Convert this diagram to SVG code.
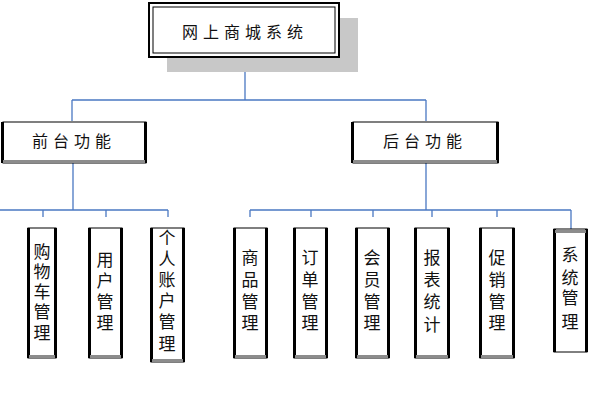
<svg xmlns="http://www.w3.org/2000/svg" width="600" height="400" viewBox="0 0 600 400">
<style>
.t{font-family:"Liberation Sans","Noto Sans CJK SC",sans-serif;font-size:16px;fill:#111;text-anchor:middle}
.v{font-family:"Liberation Sans","Noto Sans CJK SC",sans-serif;font-size:17px;fill:#111;text-anchor:middle}
.c{stroke:#4a78c2;stroke-width:1.3;fill:none}
.bx{fill:#fff;stroke:#000;stroke-width:1}
.side{fill:#000}
.bot{fill:#8c8c8c}
</style>
<rect width="600" height="400" fill="#fff"/>
<g id="connectors" class="c">
<path d="M245,57 V100 M72,100 H426 M72,100 V121 M426,100 V121"/>
<path d="M73,163 V210 M0,210 H168 M43,210 V217 M106,210 V217 M168,210 V217"/>
<path d="M426,163 V210 M250,210 H571 M250,210 V217 M311,210 V217 M373,210 V217 M432,210 V217 M497,210 V217 M571,210 V229"/>
</g>
<g id="root">
<rect x="167" y="18" width="191" height="54" fill="#c8c8c8"/>
<rect x="149" y="3" width="190" height="54" fill="#fff" stroke="#000" stroke-width="2"/>
<rect x="153" y="7" width="182" height="46" fill="none" stroke="#000" stroke-width="1"/>
<text class="t" x="245" y="38" letter-spacing="5">网上商城系统</text>
</g>
<g id="front">
<rect x="3" y="122" width="143" height="41" class="bx"/>
<rect x="1" y="122" width="3" height="41" class="side"/>
<rect x="144" y="122" width="3" height="41" class="side"/>
<rect x="3" y="160" width="142" height="3" class="bot"/>
<text class="t" x="74" y="147" letter-spacing="5">前台功能</text>
</g>
<g id="back">
<rect x="353" y="122" width="145" height="41" class="bx"/>
<rect x="351" y="122" width="3" height="41" class="side"/>
<rect x="496" y="122" width="3" height="41" class="side"/>
<rect x="353" y="160" width="144" height="3" class="bot"/>
<text class="t" x="425" y="147" letter-spacing="5">后台功能</text>
</g>
<g id="n1">
<rect x="28" y="228" width="28" height="130" class="bx"/>
<rect x="27" y="228" width="3" height="130" class="side"/><rect x="54" y="228" width="3" height="130" class="side"/>
<rect x="29" y="355" width="26" height="3" class="bot"/>
<text class="v" x="42" y="258">购</text><text class="v" x="42" y="278">物</text><text class="v" x="42" y="298">车</text><text class="v" x="42" y="318">管</text><text class="v" x="42" y="339">理</text>
</g>
<g id="n2">
<rect x="89" y="228" width="33" height="130" class="bx"/>
<rect x="88" y="228" width="3" height="130" class="side"/><rect x="120" y="228" width="3" height="130" class="side"/>
<rect x="90" y="355" width="31" height="3" class="bot"/>
<text class="v" x="105" y="266">用</text><text class="v" x="105" y="287">户</text><text class="v" x="105" y="308">管</text><text class="v" x="105" y="329">理</text>
</g>
<g id="n3">
<rect x="151" y="228" width="33" height="134" class="bx"/>
<rect x="150" y="228" width="3" height="134" class="side"/><rect x="182" y="228" width="3" height="134" class="side"/>
<rect x="152" y="359" width="31" height="3" class="bot"/>
<text class="v" x="167" y="244">个</text><text class="v" x="167" y="265">人</text><text class="v" x="167" y="286">账</text><text class="v" x="167" y="307">户</text><text class="v" x="167" y="328">管</text><text class="v" x="167" y="350">理</text>
</g>
<g id="n4">
<rect x="234" y="228" width="33" height="130" class="bx"/>
<rect x="233" y="228" width="3" height="130" class="side"/><rect x="265" y="228" width="3" height="130" class="side"/>
<rect x="235" y="355" width="31" height="3" class="bot"/>
<text class="v" x="250" y="264">商</text><text class="v" x="250" y="286">品</text><text class="v" x="250" y="308">管</text><text class="v" x="250" y="329">理</text>
</g>
<g id="n5">
<rect x="294" y="228" width="33" height="130" class="bx"/>
<rect x="293" y="228" width="3" height="130" class="side"/><rect x="325" y="228" width="3" height="130" class="side"/>
<rect x="295" y="355" width="31" height="3" class="bot"/>
<text class="v" x="310" y="264">订</text><text class="v" x="310" y="286">单</text><text class="v" x="310" y="308">管</text><text class="v" x="310" y="329">理</text>
</g>
<g id="n6">
<rect x="356" y="228" width="33" height="130" class="bx"/>
<rect x="355" y="228" width="3" height="130" class="side"/><rect x="387" y="228" width="3" height="130" class="side"/>
<rect x="357" y="355" width="31" height="3" class="bot"/>
<text class="v" x="372" y="264">会</text><text class="v" x="372" y="286">员</text><text class="v" x="372" y="308">管</text><text class="v" x="372" y="329">理</text>
</g>
<g id="n7">
<rect x="415" y="228" width="34" height="130" class="bx"/>
<rect x="414" y="228" width="3" height="130" class="side"/><rect x="447" y="228" width="3" height="130" class="side"/>
<rect x="416" y="355" width="32" height="3" class="bot"/>
<text class="v" x="432" y="264">报</text><text class="v" x="432" y="286">表</text><text class="v" x="432" y="308">统</text><text class="v" x="432" y="331">计</text>
</g>
<g id="n8">
<rect x="480" y="228" width="34" height="130" class="bx"/>
<rect x="479" y="228" width="3" height="130" class="side"/><rect x="512" y="228" width="3" height="130" class="side"/>
<rect x="481" y="355" width="32" height="3" class="bot"/>
<text class="v" x="497" y="264">促</text><text class="v" x="497" y="286">销</text><text class="v" x="497" y="308">管</text><text class="v" x="497" y="329">理</text>
</g>
<g id="n9">
<rect x="554" y="229" width="33" height="123" class="bx"/>
<rect x="553" y="229" width="3" height="123" class="side"/><rect x="585" y="229" width="3" height="123" class="side"/>
<rect x="555" y="230" width="31" height="3" class="bot"/>
<text class="v" x="570" y="261">系</text><text class="v" x="570" y="284">统</text><text class="v" x="570" y="304">管</text><text class="v" x="570" y="328">理</text>
</g>
</svg>
